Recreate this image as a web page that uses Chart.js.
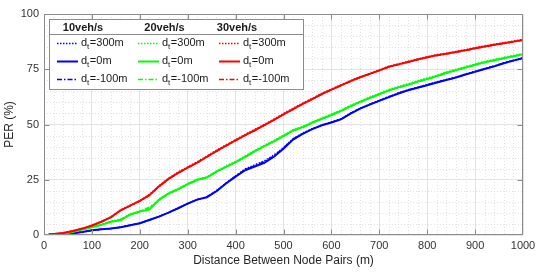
<!DOCTYPE html>
<html>
<head>
<meta charset="utf-8">
<script src="https://cdn.jsdelivr.net/npm/chart.js@4"></script>
<style>
  body { margin: 0; background: #fff; }
  canvas { display: block; }
</style>
</head>
<body>
<canvas id="perChart" width="538" height="272"></canvas>
<script>
// distance between node pairs (m)
const distance = [0, 10, 20, 40, 60, 80, 100, 120, 140, 160, 180, 200, 220, 240, 260, 280, 300, 320, 340, 360, 380,
  400, 420, 440, 460, 480, 500, 520, 540, 560, 580, 600, 620, 640, 660, 680, 700, 720, 740, 760, 780,
  800, 820, 840, 860, 880, 900, 920, 940, 960, 980, 1000];

// PER (%) — 10 veh/s
const per10_300 = [0, 0.05, 0.1, 0.3, 0.8, 1.4, 2.1, 2.6, 3.0, 3.6, 4.5, 5.4, 6.9, 8.4, 10.2, 12.2, 14.3, 16.1, 17.3, 20.1, 23.6,
  26.8, 29.9, 31.8, 33.6, 36.2, 39.6, 43.6, 46.1, 48.1, 49.9, 51.2, 52.6, 55.2, 57.4, 59.2, 61.0, 62.7, 64.3, 65.8, 66.9,
  68.1, 69.3, 70.4, 71.5, 72.9, 74.1, 75.4, 76.6, 77.9, 79.1, 80.2];
const per10_0 = [0, 0.05, 0.1, 0.3, 0.8, 1.4, 2.1, 2.6, 2.9, 3.5, 4.4, 5.3, 6.8, 8.3, 10.1, 12.1, 14.2, 16.0, 17.1, 19.8, 23.3,
  26.4, 29.3, 31.0, 32.7, 35.4, 39.0, 43.2, 45.8, 47.9, 49.6, 50.9, 52.3, 54.9, 57.2, 59.0, 60.7, 62.4, 64.0, 65.5, 66.6,
  67.8, 69.0, 70.1, 71.2, 72.6, 73.8, 75.1, 76.3, 77.7, 78.9, 80.0];
const per10_m100 = [0, 0.05, 0.1, 0.3, 0.8, 1.4, 2.0, 2.6, 2.9, 3.5, 4.4, 5.3, 6.8, 8.3, 10.1, 12.1, 14.2, 16.0, 17.2, 19.9, 23.4,
  26.6, 29.6, 31.4, 33.2, 35.8, 39.3, 43.4, 45.9, 48.0, 49.7, 51.0, 52.4, 55.0, 57.3, 59.1, 60.8, 62.5, 64.1, 65.6, 66.7,
  67.9, 69.1, 70.2, 71.3, 72.7, 73.9, 75.2, 76.4, 77.8, 79.0, 80.1];

// PER (%) — 20 veh/s
const per20_300 = [0, 0.1, 0.3, 0.6, 1.5, 2.6, 3.6, 4.8, 6.3, 7.2, 9.5, 10.8, 12.0, 16.2, 19.0, 21.0, 23.3, 25.3, 26.4, 29.0, 31.2,
  33.4, 35.8, 38.3, 40.6, 42.8, 45.2, 47.6, 49.2, 51.1, 53.0, 54.7, 56.6, 58.7, 60.6, 62.4, 64.1, 65.9, 67.3, 68.5, 69.9,
  71.1, 72.3, 73.8, 75.0, 76.2, 77.4, 78.6, 79.5, 80.4, 81.3, 82.1];
const per20_0 = [0, 0.1, 0.3, 0.6, 1.4, 2.5, 3.5, 4.6, 6.0, 6.7, 9.3, 10.6, 11.5, 15.9, 18.8, 20.7, 23.0, 25.0, 26.0, 28.7, 30.8,
  33.0, 35.4, 37.9, 40.2, 42.4, 44.8, 47.3, 48.8, 50.8, 52.6, 54.3, 56.2, 58.3, 60.2, 62.0, 63.7, 65.5, 66.8, 68.0, 69.4,
  70.6, 71.9, 73.4, 74.6, 75.8, 77.0, 78.2, 79.1, 80.0, 80.9, 81.8];
const per20_m100 = [0, 0.1, 0.3, 0.6, 1.4, 2.5, 3.5, 4.7, 6.1, 6.9, 9.2, 10.5, 12.6, 15.6, 18.6, 20.6, 22.9, 24.7, 25.9, 28.6, 30.7,
  32.9, 35.3, 37.8, 40.1, 42.3, 44.7, 47.1, 48.7, 50.7, 52.5, 54.2, 56.1, 58.1, 60.0, 61.9, 63.6, 65.3, 66.7, 67.9, 69.3,
  70.5, 71.8, 73.2, 74.5, 75.7, 76.9, 78.1, 79.0, 79.9, 80.8, 81.7];

// PER (%) — 30 veh/s
const per30_300 = [null, 0.3, 0.5, 1.0, 1.9, 3.0, 4.4, 6.2, 8.3, 11.4, 13.5, 15.6, 18.3, 22.3, 25.7, 28.5, 30.9, 33.2, 35.8, 38.4, 40.8,
  43.2, 45.6, 47.8, 50.1, 52.5, 55.0, 57.4, 59.7, 61.9, 64.1, 66.1, 68.0, 69.9, 71.7, 73.2, 74.8, 76.4, 77.5, 78.6, 79.7,
  80.7, 81.6, 82.3, 83.1, 83.9, 84.8, 85.6, 86.4, 87.1, 87.8, 88.5];
const per30_0 = [null, 0.3, 0.5, 0.9, 1.8, 2.9, 4.3, 6.0, 8.1, 11.2, 13.3, 15.4, 18.0, 22.0, 25.4, 28.1, 30.5, 32.8, 35.4, 38.0, 40.4,
  42.8, 45.2, 47.4, 49.7, 52.1, 54.6, 57.0, 59.3, 61.5, 63.8, 65.8, 67.7, 69.6, 71.4, 72.9, 74.5, 76.1, 77.2, 78.3, 79.4,
  80.4, 81.3, 82.0, 82.8, 83.6, 84.5, 85.3, 86.1, 86.8, 87.5, 88.2];
const per30_m100 = [null, 0.3, 0.5, 0.9, 1.8, 2.9, 4.3, 6.0, 8.0, 11.1, 13.2, 15.3, 17.9, 21.9, 25.3, 28.0, 30.4, 32.7, 35.3, 37.9, 40.3,
  42.7, 45.1, 47.3, 49.6, 52.0, 54.5, 56.9, 59.2, 61.4, 63.7, 65.7, 67.6, 69.5, 71.3, 72.8, 74.4, 76.0, 77.1, 78.2, 79.3,
  80.3, 81.2, 81.9, 82.7, 83.5, 84.4, 85.2, 86.0, 86.7, 87.4, 88.1];

const rates = ["10veh/s", "20veh/s", "30veh/s"];
const offsets = ["=300m", "=0m", "=-100m"];
const colors = ["#0000ff", "#00ff00", "#ff0000"];

const FONT = "'Liberation Sans', Arial, Helvetica, sans-serif";
const AXIS = "#8c8c8c";

const seriesByRate = [
  [per10_300, per10_0, per10_m100],
  [per20_300, per20_0, per20_m100],
  [per30_300, per30_0, per30_m100],
];

// line styles: dotted, solid, dash-dot
const styles = [
  { borderWidth: 1.3, borderDash: [1.5, 1.5] },
  { borderWidth: 2, borderDash: [] },
  { borderWidth: 1.5, borderDash: [5, 2, 1.5, 2] },
];

const datasets = [];
seriesByRate.forEach((group, c) => {
  group.forEach((vals, r) => {
    datasets.push({
      label: rates[c] + " dt" + offsets[r],
      data: distance.map((d, i) => ({ x: d, y: vals[i] })),
      borderColor: colors[c],
      backgroundColor: colors[c],
      borderWidth: styles[r].borderWidth,
      borderDash: styles[r].borderDash,
      pointRadius: 0,
      tension: 0,
      fill: false,
      order: 10 - c * 3 - r,
    });
  });
});

// minor dotted grid, box and inward ticks (matlab look)
const boxPlugin = {
  id: "boxPlugin",
  beforeDatasetsDraw(chart) {
    const { ctx, chartArea: a, scales } = chart;
    ctx.save();
    ctx.strokeStyle = "#e2e2e2";
    ctx.lineWidth = 1;
    ctx.setLineDash([1, 2]);
    for (let v = 20; v < 1000; v += 20) {
      if (v % 100 === 0) continue;
      const x = Math.round(scales.x.getPixelForValue(v)) + 0.5;
      ctx.beginPath(); ctx.moveTo(x, a.top); ctx.lineTo(x, a.bottom); ctx.stroke();
    }
    for (let v = 5; v < 100; v += 5) {
      if (v % 25 === 0) continue;
      const y = Math.round(scales.y.getPixelForValue(v)) + 0.5;
      ctx.beginPath(); ctx.moveTo(a.left, y); ctx.lineTo(a.right, y); ctx.stroke();
    }
    ctx.restore();
  },
  afterDatasetsDraw(chart) {
    const { ctx, chartArea: a, scales } = chart;
    ctx.save();
    ctx.strokeStyle = AXIS;
    ctx.lineWidth = 1;
    ctx.setLineDash([]);
    const L = Math.round(a.left) + 0.5, R = Math.round(a.right) - 0.5;
    const T = Math.round(a.top) + 0.5, B = Math.round(a.bottom) - 0.5;
    ctx.strokeRect(L, T, R - L, B - T);
    ctx.beginPath();
    for (let v = 100; v < 1000; v += 100) {
      const x = Math.round(scales.x.getPixelForValue(v)) + 0.5;
      ctx.moveTo(x, B); ctx.lineTo(x, B - 5);
      ctx.moveTo(x, T); ctx.lineTo(x, T + 5);
    }
    for (let v = 25; v < 100; v += 25) {
      const y = Math.round(scales.y.getPixelForValue(v)) + 0.5;
      ctx.moveTo(L, y); ctx.lineTo(L + 5, y);
      ctx.moveTo(R, y); ctx.lineTo(R - 5, y);
    }
    ctx.stroke();
    ctx.restore();
  },
  afterDraw(chart) {
    const ctx = chart.ctx;
    const ds = chart.data.datasets;
    ctx.save();
    // legend box
    ctx.fillStyle = "#ffffff";
    ctx.fillRect(49.5, 19.5, 254, 70);
    ctx.strokeStyle = AXIS;
    ctx.lineWidth = 1;
    ctx.setLineDash([]);
    ctx.strokeRect(49.5, 19.5, 254, 70);
    ctx.beginPath(); ctx.moveTo(49.5, 34.5); ctx.lineTo(303.5, 34.5); ctx.stroke();

    ctx.fillStyle = "#1a1a1a";
    ctx.textBaseline = "middle";
    ctx.textAlign = "center";
    ctx.font = "bold 11px " + FONT;
    const headX = [83, 164.5, 237];
    rates.forEach((t, c) => ctx.fillText(t, headX[c], 27.5));

    const colX = [57, 138, 219];
    const rowY = [43, 61, 79];
    ctx.textAlign = "left";
    for (let c = 0; c < 3; c++) {
      for (let r = 0; r < 3; r++) {
        const d = ds[c * 3 + r];
        const x0 = colX[c], y = rowY[r] + 0.5;
        ctx.strokeStyle = d.borderColor;
        ctx.lineWidth = d.borderWidth;
        ctx.setLineDash(d.borderDash);
        ctx.beginPath(); ctx.moveTo(x0, y); ctx.lineTo(x0 + 21, y); ctx.stroke();

        ctx.fillStyle = "#1a1a1a";
        let tx = x0 + 24;
        ctx.font = "11px " + FONT;
        ctx.fillText("d", tx, rowY[r]);
        tx += ctx.measureText("d").width;
        ctx.font = "8px " + FONT;
        ctx.fillText("t", tx, rowY[r] + 4);
        tx += ctx.measureText("t").width + 0.5;
        ctx.font = "11px " + FONT;
        ctx.fillText(offsets[r], tx, rowY[r]);
      }
    }
    ctx.restore();
  },
};

new Chart(document.getElementById("perChart"), {
  type: "line",
  data: { datasets },
  options: {
    responsive: false,
    animation: false,
    events: [],
    layout: { padding: { left: 0, top: 14, right: 15, bottom: 0 } },
    plugins: {
      legend: { display: false },
      tooltip: { enabled: false },
    },
    scales: {
      x: {
        type: "linear",
        min: 0,
        max: 1000,
        afterFit: (s) => { s.height = 37; s.paddingLeft = 0; s.paddingRight = 0; },
        ticks: {
          stepSize: 100, padding: 4, color: "#333", maxRotation: 0,
          font: { family: FONT, size: 11 },
          callback: (v) => String(v),
        },
        grid: { color: "#e3e3e3", drawTicks: false },
        border: { display: false },
        title: {
          display: true,
          text: "Distance Between Node Pairs (m)",
          color: "#262626",
          font: { family: FONT, size: 12 },
          padding: { top: 2, bottom: 4 },
        },
      },
      y: {
        min: 0,
        max: 100,
        afterFit: (s) => { s.width = 44; s.paddingTop = 0; s.paddingBottom = 0; },
        ticks: { stepSize: 25, padding: 5, color: "#333", font: { family: FONT, size: 11 } },
        grid: { color: "#e3e3e3", drawTicks: false },
        border: { display: false },
        title: {
          display: true,
          text: "PER (%)",
          color: "#262626",
          font: { family: FONT, size: 12 },
          padding: { top: 2, bottom: 2 },
        },
      },
    },
  },
  plugins: [boxPlugin],
});
</script>
</body>
</html>
